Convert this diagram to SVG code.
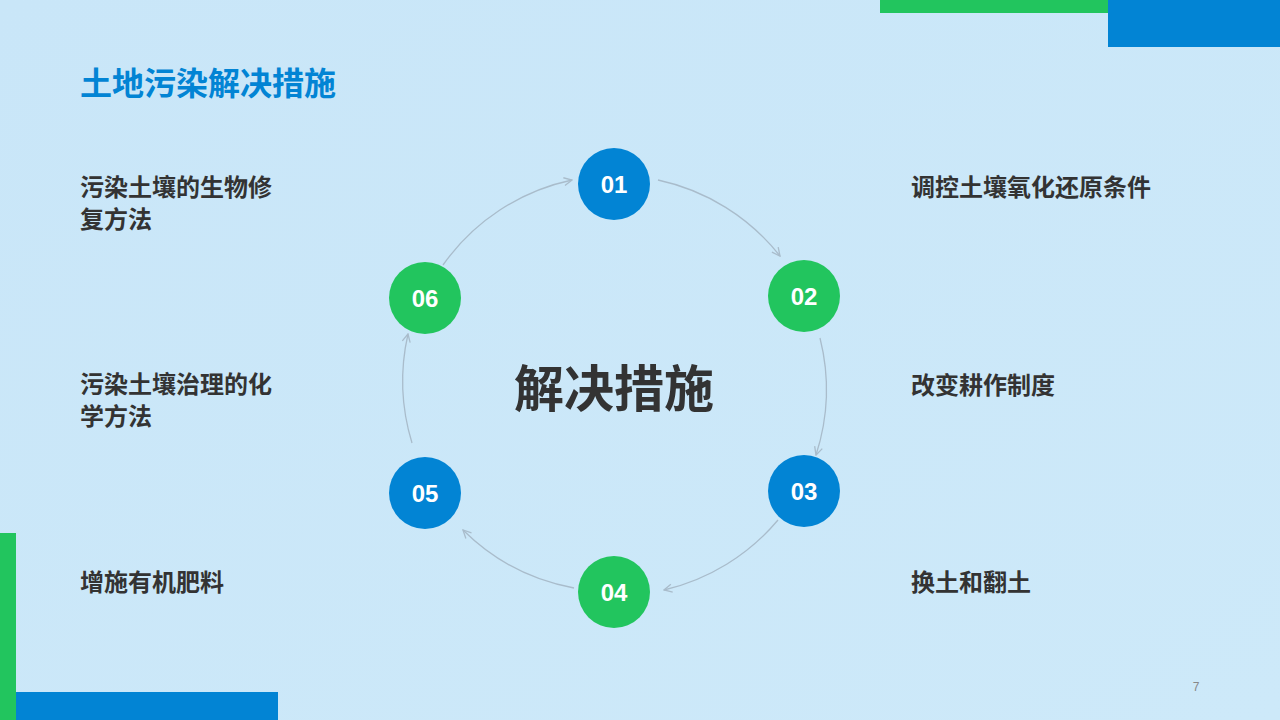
<svg xmlns="http://www.w3.org/2000/svg" width="1280" height="720" viewBox="0 0 1280 720">
<defs>
<linearGradient id="bg" x1="0" y1="0" x2="1" y2="1"><stop offset="0" stop-color="#c9e6f8"/><stop offset="1" stop-color="#cde9f9"/></linearGradient>
<marker id="ar" viewBox="0 0 10 10" refX="9" refY="5" markerWidth="10" markerHeight="10" orient="auto" markerUnits="userSpaceOnUse"><path d="M1,1 L9,5 L1,9" fill="none" stroke="#a9bccb" stroke-width="1.3"/></marker>
<style>
.t{font-family:"Noto Sans CJK SC","Liberation Sans",sans-serif;font-weight:bold;font-size:24px;fill:#333}
.n{font-family:"Liberation Sans",Arial,sans-serif;font-weight:bold;font-size:24px;fill:#fff;text-anchor:middle}
.c{fill:none;stroke:#a9bccb;stroke-width:1.3;marker-end:url(#ar)}
</style>
</defs>
<rect width="1280" height="720" fill="url(#bg)"/>
<rect x="880" y="0" width="228" height="13" fill="#22c55e"/>
<rect x="1108" y="0" width="172" height="47" fill="#0284d4"/>
<rect x="0" y="533" width="16" height="187" fill="#22c55e"/>
<rect x="16" y="692" width="262" height="28" fill="#0284d4"/>
<text x="80" y="95" font-family="Noto Sans CJK SC,sans-serif" font-weight="bold" font-size="32" fill="#0284d4">土地污染解决措施</text>
<g id="connectors">
<path class="c" d="M658,180 A212,212 0 0 1 780,256"/>
<path class="c" d="M820,338 A212,212 0 0 1 816,455"/>
<path class="c" d="M778,520 A212,212 0 0 1 664,590"/>
<path class="c" d="M574,588 A212,212 0 0 1 463,530"/>
<path class="c" d="M412,443 A212,212 0 0 1 408,334"/>
<path class="c" d="M443,265 A212,212 0 0 1 572,180"/>
</g>
<g id="center"><text x="614" y="407" text-anchor="middle" font-family="Noto Sans CJK SC,sans-serif" font-weight="bold" font-size="50" fill="#333">解决措施</text></g>
<g id="n01"><circle cx="614" cy="184" r="36" fill="#0284d4"/><text class="n" x="614" y="193">01</text></g>
<g id="n02"><circle cx="804" cy="296" r="36" fill="#22c55e"/><text class="n" x="804" y="305">02</text></g>
<g id="n03"><circle cx="804" cy="491" r="36" fill="#0284d4"/><text class="n" x="804" y="500">03</text></g>
<g id="n04"><circle cx="614" cy="592" r="36" fill="#22c55e"/><text class="n" x="614" y="601">04</text></g>
<g id="n05"><circle cx="425" cy="493" r="36" fill="#0284d4"/><text class="n" x="425" y="502">05</text></g>
<g id="n06"><circle cx="425" cy="298" r="36" fill="#22c55e"/><text class="n" x="425" y="307">06</text></g>
<g id="labels">
<text class="t" x="80" y="196">污染土壤的生物修</text><text class="t" x="80" y="228">复方法</text>
<text class="t" x="80" y="393">污染土壤治理的化</text><text class="t" x="80" y="425">学方法</text>
<text class="t" x="80" y="591">增施有机肥料</text>
<text class="t" x="911" y="196">调控土壤氧化还原条件</text>
<text class="t" x="911" y="394">改变耕作制度</text>
<text class="t" x="911" y="591">换土和翻土</text>
</g>
<text x="1196" y="691" font-family="Liberation Sans,sans-serif" font-size="12" fill="#888" text-anchor="middle">7</text>
</svg>
